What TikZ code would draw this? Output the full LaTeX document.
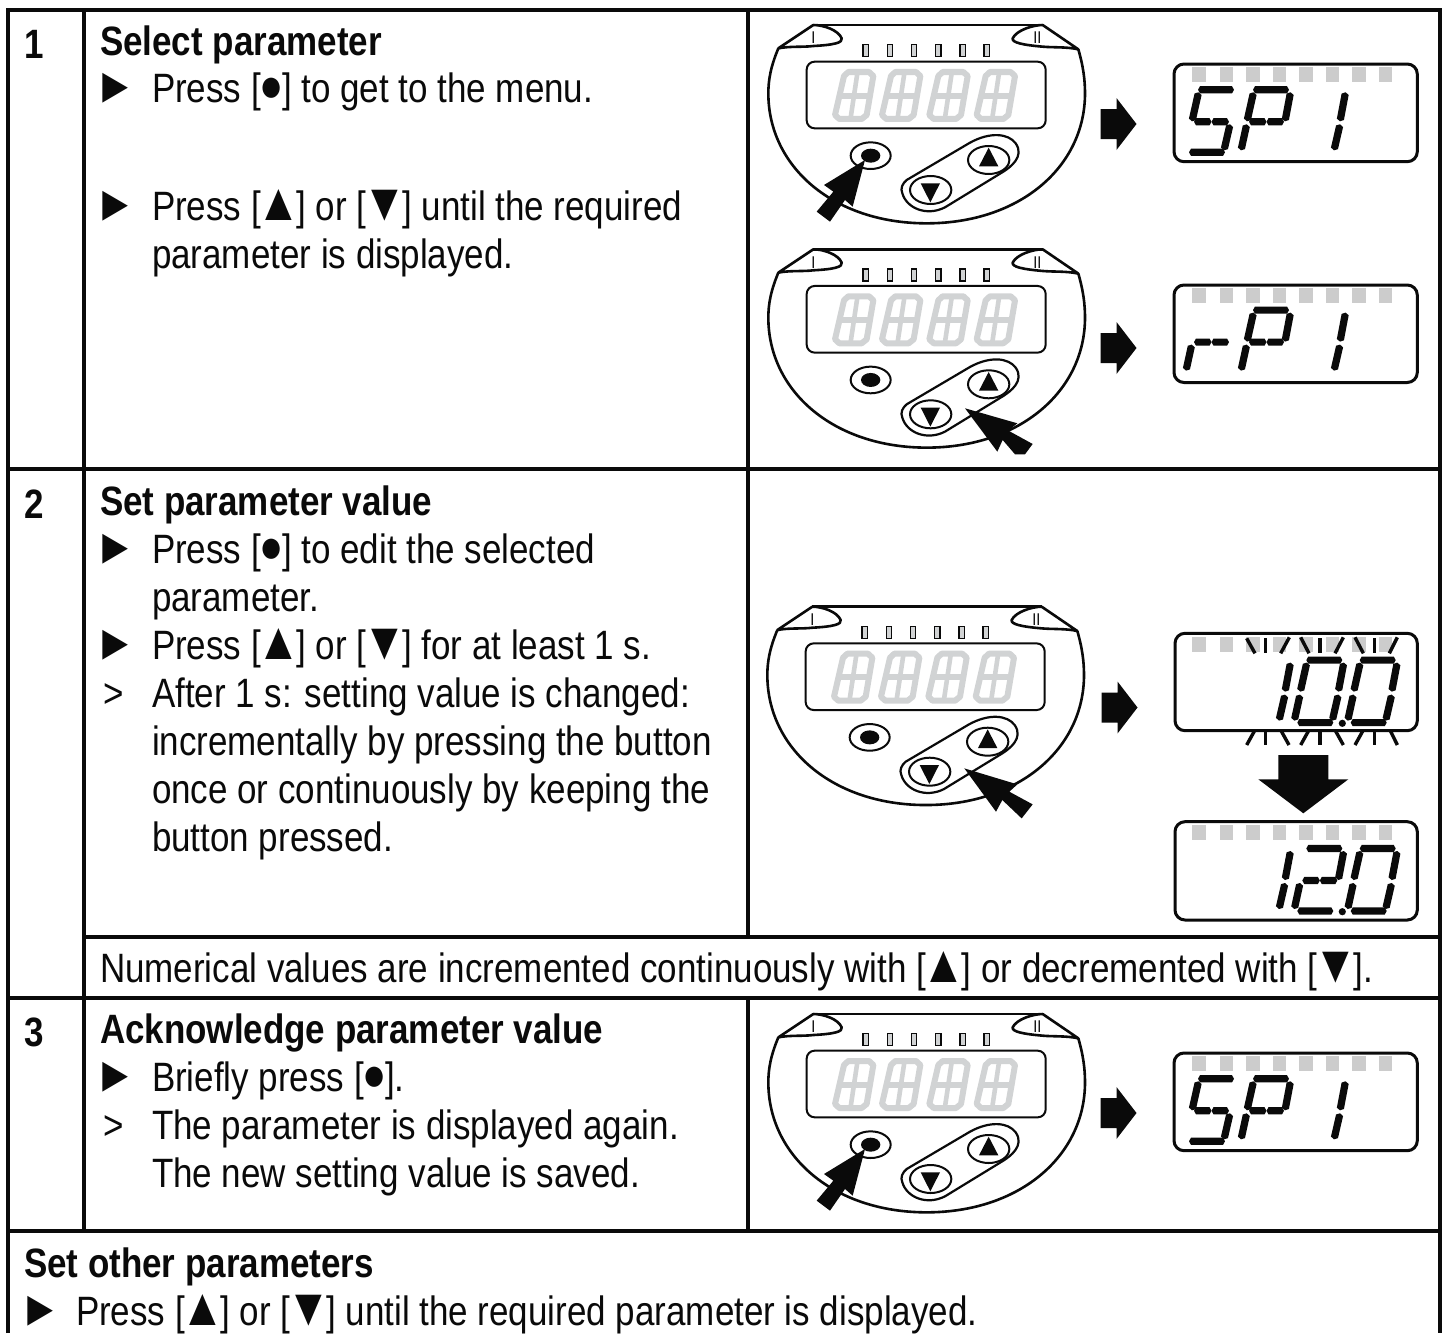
\documentclass[tikz,border=0pt]{standalone}
\usepackage{fontspec}
\setmainfont[FakeStretch=0.853]{Liberation Sans}
\usetikzlibrary{calc}
\definecolor{lcdgrey}{HTML}{D1D3D4}
\definecolor{sqgrey}{HTML}{CCCCCC}
\definecolor{ink}{HTML}{0A0A0A}
\newcommand\fsz{\fontsize{41}{48}\selectfont}
\tikzset{
  frameline/.style={line width=4pt,draw=ink},
  txt/.style={anchor=base west,inner sep=0pt,outer sep=0pt,font=\fsz,text=ink},
  btxt/.style={txt,font=\fsz\bfseries},
  outlinepart/.style={draw=ink,line width=2.6pt,line join=round},
  thinpart/.style={draw=ink,line width=2pt,fill=white},
  dispbox/.style={draw=ink,line width=3pt,rounded corners=10pt},
  lcdseg/.style={draw=lcdgrey,line width=6pt,line join=round},
  ray/.style={draw=ink,line width=3.4pt},
  romannum/.style={inner sep=0pt,font=\fontsize{17}{17}\selectfont,text=ink}
}
\newcommand\sg[4]{%
  \pgfmathsetmacro\sgdx{(#3)-(#1)}\pgfmathsetmacro\sgdy{(#4)-(#2)}%
  \pgfmathsetmacro\sgl{sqrt(\sgdx*\sgdx+\sgdy*\sgdy)}%
  \pgfmathsetmacro\ux{\sgdx/\sgl}\pgfmathsetmacro\uy{\sgdy/\sgl}%
  \fill[ink] (#1,#2) -- ({#1+2*\ux-3.6*\uy},{#2+2*\uy+3.6*\ux}) -- ({#3-2*\ux-3.6*\uy},{#4-2*\uy+3.6*\ux}) -- (#3,#4) -- ({#3-2*\ux+3.6*\uy},{#4-2*\uy-3.6*\ux}) -- ({#1+2*\ux+3.6*\uy},{#2+2*\uy-3.6*\ux}) -- cycle;}
\newcommand\dA{\sg{13}{-63.5}{49}{-63.5}}
\newcommand\dF{\sg{13.5}{-61}{7}{-32}}
\newcommand\dE{\sg{6.7}{-29}{1}{-3}}
\newcommand\dB{\sg{50.5}{-61}{45}{-32}}
\newcommand\dC{\sg{45}{-29}{39}{-3}}
\newcommand\dD{\sg{4}{-1}{40}{-1}}
\newcommand\dG{\sg{9}{-31.5}{26.5}{-31.5}}
\newcommand\dH{\sg{26.5}{-31.5}{44}{-31.5}}
\newcommand\lcddigit[1]{%
  \begin{scope}[shift={(#1,0)}]
    \draw[lcdseg] (55,186) -- (117,186) -- (130,198) -- (110,315) -- (95,327) -- (28,327) -- (15,315) -- (42,198) -- cycle;
    \draw[lcdseg] (27,257) -- (118,257);
    \draw[lcdseg,line width=4.6pt] (82,190) -- (62,323);
  \end{scope}}
\newcommand\led[1]{\filldraw[fill=lcdgrey,draw=ink,line width=1.5pt] (#1-8,104) rectangle (#1+8,140);}
\newcommand\device[3]{%
  \begin{scope}[shift={(#3,#2)},x=0.33333pt,y=-0.33333pt]
    \draw[outlinepart] (85,115) .. controls (62,170) and (55,210) .. (55,250) .. controls (55,470) and (250,640) .. (530,640) .. controls (810,640) and (1005,470) .. (1005,250) .. controls (1005,210) and (1000,170) .. (985,118);
    \draw[outlinepart] (190,45) -- (878,45);
    \draw[outlinepart] (190,45) -- (85,115) .. controls (120,108) and (160,112) .. (190,108) .. controls (250,105) and (280,98) .. (275,85) .. controls (265,60) and (220,45) .. (190,45);
    \draw[outlinepart] (878,45) -- (985,118) .. controls (950,110) and (910,113) .. (878,110) .. controls (820,105) and (785,98) .. (788,85) .. controls (800,60) and (850,45) .. (878,45);
    \node[romannum] (#1i) at (190,84) {I};
    \node[romannum] (#1ii) at (862,84) {II};
    \led{347}\led{420}\led{492}\led{565}\led{638}\led{710}
    \draw[draw=ink,line width=2pt,rounded corners=8pt] (170,155) rectangle (887,355);
    \lcddigit{240}\lcddigit{381}\lcddigit{523}\lcddigit{665}
    \draw[thinpart] (362,437) ellipse [x radius=60,y radius=40];
    \fill[ink] (362,437) ellipse [x radius=29,y radius=21];
    \draw[outlinepart,line width=2.2pt] (470,510) -- (660,398) .. controls (720,365) and (775,370) .. (797,400) .. controls (825,440) and (780,472) .. (760,485) -- (585,592) .. controls (530,620) and (470,595) .. (457,550) .. controls (450,535) and (458,520) .. (470,510);
    \draw[thinpart] (716,450) ellipse [x radius=62,y radius=42];
    \draw[thinpart] (542,540) ellipse [x radius=62,y radius=42];
    \fill[ink] (716,413) -- (687,469) -- (745,469) -- cycle;
    \fill[ink] (512,520) -- (570,520) -- (541,577) -- cycle;
  \end{scope}}
\newcommand\handleft[1]{%
  \begin{scope}[shift={(750,#1)},x=0.33333pt,y=-0.33333pt]
    \fill[ink] (345,450) -- (222,525) -- (250,545) -- (200,605) -- (240,635) -- (285,570) -- (308,590) -- cycle;
  \end{scope}}
\newcommand\handright[2]{%
  \begin{scope}[shift={(750,#1)},x=0.33333pt,y=-0.33333pt]
    \fill[ink] #2 -- cycle;
  \end{scope}}
\newcommand\smallarrow[2]{\fill[ink] (#1,#2-15) -- (#1+16,#2-15) -- (#1+16,#2-26) -- (#1+36,#2) -- (#1+16,#2+26) -- (#1+16,#2+15) -- (#1,#2+15) -- cycle;}
\newcommand\squares[2]{\foreach \qx in {327,410,489,568,648,727,807,886}{\fill[sqgrey] ({1090+\qx/3-6.7},#1) rectangle ({1090+\qx/3+6.7},#2);}}
\newcommand\blt{{\fontsize{47}{47}\selectfont\kern-1.5pt\raisebox{1pt}{●}\kern-1.5pt}}
\newcommand\tup{{\fontsize{53}{48}\selectfont\kern-4.5pt▲\kern-4.5pt}}
\newcommand\tdn{{\fontsize{53}{48}\selectfont\kern-4.5pt▼\kern-4.5pt}}
\newcommand\tri{{\fontsize{50}{48}\selectfont ►}}
\begin{document}
\begin{tikzpicture}[x=1pt,y=-1pt]
\useasboundingbox (0,0) rectangle (1448,1333);
\fill[white] (0,0) rectangle (1448,1333);
% frame
\draw[frameline] (8,1333) -- (8,10) -- (1440,10) -- (1440,1333);
\draw[frameline] (83.5,10) -- (83.5,1231);
\draw[frameline] (748,10) -- (748,936.5);
\draw[frameline] (748,998) -- (748,1231);
\draw[frameline] (6,468.5) -- (1442,468.5);
\draw[frameline] (83.5,936.5) -- (1442,936.5);
\draw[frameline] (6,998) -- (1442,998);
\draw[frameline] (6,1231) -- (1442,1231);
% text
\node[btxt] (n1) at (24,58) {1};
\node[btxt] (t1) at (100,55) {Select parameter};
\node[txt] (b11) at (94.5,102) {\tri};
\node[txt] (t11) at (152,102) {Press [\blt] to get to the menu.};
\node[txt] (b12) at (94.5,220) {\tri};
\node[txt] (t12) at (152,220) {Press [\tup] or [\tdn] until the required};
\node[txt] (t13) at (152,268) {parameter is displayed.};
\node[btxt] (n2) at (24,518) {2};
\node[btxt] (t2) at (100,515) {Set parameter value};
\node[txt] (b21) at (94.5,563) {\tri};
\node[txt] (t21) at (152,563) {Press [\blt] to edit the selected};
\node[txt] (t22) at (152,611) {parameter.};
\node[txt] (b23) at (94.5,659) {\tri};
\node[txt] (t23) at (152,659) {Press [\tup] or [\tdn] for at least 1 s.};
\node[txt] (g24) at (103,707) {>};
\node[txt] (t24) at (152,707) {After 1 s: setting value is changed:};
\node[txt] (t25) at (152,755) {incrementally by pressing the button};
\node[txt] (t26) at (152,803) {once or continuously by keeping the};
\node[txt] (t27) at (152,851) {button pressed.};
\node[txt] (t28) at (100,982) {Numerical values are incremented continuously with [\tup] or decremented with [\tdn].};
\node[btxt] (n3) at (24,1046) {3};
\node[btxt] (t3) at (100,1043) {Acknowledge parameter value};
\node[txt] (b31) at (94.5,1091) {\tri};
\node[txt] (t31) at (152,1091) {Briefly press [\blt].};
\node[txt] (g32) at (103,1139) {>};
\node[txt] (t32) at (152,1139) {The parameter is displayed again.};
\node[txt] (t33) at (152,1187) {The new setting value is saved.};
\node[btxt] (t4) at (24,1277) {Set other parameters};
\node[txt] (b41) at (19.5,1325) {\tri};
\node[txt] (t41) at (76,1325) {Press [\tup] or [\tdn] until the required parameter is displayed.};
% devices
\device{da}{10}{750}\handleft{10}
\device{db}{234.3}{750}\handright{234.3}{(645,522) -- (802,567) -- (775,589) -- (848,629) -- (825,660) -- (795,660) -- (758,617) -- (742,652)}
\device{dc}{591.7}{749}\handright{591.7}{(643,530) -- (802,578) -- (778,600) -- (848,638) -- (815,680) -- (757,625) -- (738,660)}
\device{dd}{999}{750}\handleft{999}
% row 1 displays
\smallarrow{1100.5}{124}
\squares{67.3}{82.3}
\draw[dispbox] (1174,64) rectangle (1417.3,161.7);
\begin{scope}[shift={(1185,153.3)}]\dA\dF\dG\dH\dC\dD\end{scope}
\begin{scope}[shift={(1240,153.3)}]\dA\dF\dE\dB\dG\dH\end{scope}
\begin{scope}[shift={(1295,153.3)}]\dB\dC\end{scope}
\smallarrow{1100.5}{348}
\squares{288}{303}
\draw[dispbox] (1174,285) rectangle (1417.3,382.5);
\begin{scope}[shift={(1185,373.6)}]\dE\dG\dH\end{scope}
\begin{scope}[shift={(1240,373.6)}]\dA\dF\dE\dB\dG\dH\end{scope}
\begin{scope}[shift={(1295,373.6)}]\dB\dC\end{scope}
% row 2 displays
\smallarrow{1101.5}{707.5}
\squares{637.3}{651.7}
\draw[dispbox] (1175,633.3) rectangle (1417.3,730.7);
\foreach \ra/\rb/\rc/\rd in {470/55/495/100,527/55/527/100,598/52/572/100,632/52/657/100,690/55/690/100,760/52/735/100,795/52/820/100,853/55/853/100,922/52/898/100,495/330/470/375,527/330/527/375,572/330/597/375,657/330/632/375,690/330/690/375,735/330/760/375,820/330/795/375,853/330/853/375,900/330/922/375}
  {\draw[ray] ({1090+\ra/3},{620+\rb/3}) -- ({1090+\rc/3},{620+\rd/3});}
\begin{scope}[shift={(1240,723.6)}]\dB\dC\end{scope}
\begin{scope}[shift={(1293.3,723.6)}]\dA\dF\dE\dB\dC\dD\end{scope}
\begin{scope}[shift={(1346.7,723.6)}]\dA\dF\dE\dB\dC\dD\end{scope}
\fill[ink] (1342.3,723.3) circle (3.6);
\fill[ink] (1278.3,755) -- (1328.3,755) -- (1328.3,779.3) -- (1348.3,779.3) -- (1303.3,813.3) -- (1258.3,779.3) -- (1278.3,779.3) -- cycle;
\squares{825}{840}
\draw[dispbox] (1175,821.7) rectangle (1417.3,920);
\begin{scope}[shift={(1240,912)}]\dB\dC\end{scope}
\begin{scope}[shift={(1293.3,912)}]\dA\dB\dG\dH\dE\dD\end{scope}
\begin{scope}[shift={(1346.7,912)}]\dA\dF\dE\dB\dC\dD\end{scope}
\fill[ink] (1342.3,911.7) circle (3.6);
% row 3 display
\smallarrow{1100.5}{1113}
\squares{1056.3}{1071.3}
\draw[dispbox] (1174,1053) rectangle (1417.3,1150.7);
\begin{scope}[shift={(1185,1142.3)}]\dA\dF\dG\dH\dC\dD\end{scope}
\begin{scope}[shift={(1240,1142.3)}]\dA\dF\dE\dB\dG\dH\end{scope}
\begin{scope}[shift={(1295,1142.3)}]\dB\dC\end{scope}
\end{tikzpicture}
\end{document}
